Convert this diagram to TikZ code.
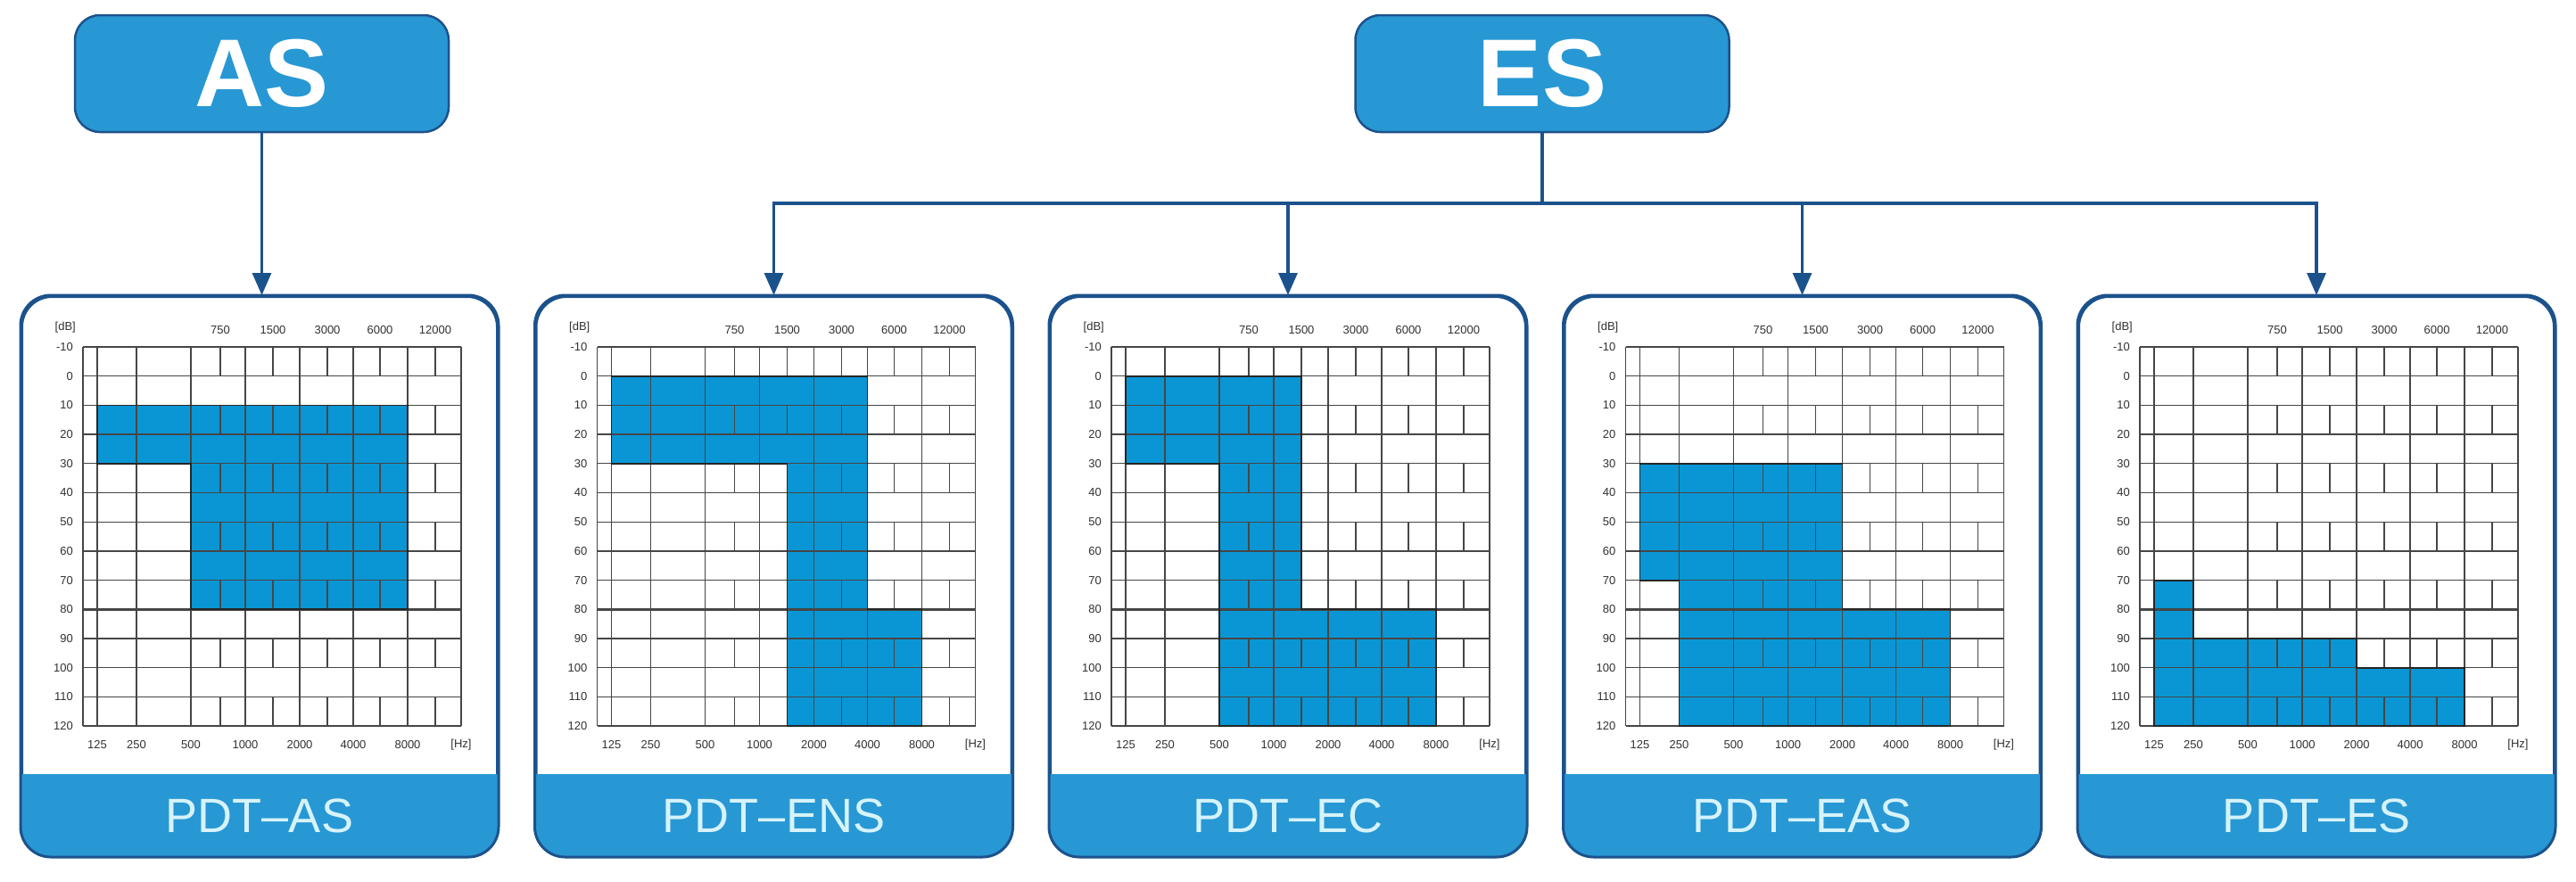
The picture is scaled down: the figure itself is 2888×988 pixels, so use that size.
\documentclass[tikz,border=0pt]{standalone}
\usepackage{fontspec}
\setmainfont{Liberation Sans}
\usetikzlibrary{arrows.meta,calc}
\definecolor{navy}{RGB}{28,82,140}
\definecolor{band}{RGB}{40,152,212}
\definecolor{fillblue}{RGB}{10,150,212}
\definecolor{bandtext}{RGB}{214,243,251}
\definecolor{gridc}{RGB}{70,70,70}
\definecolor{labc}{RGB}{50,50,50}

\def\fqA{16}\def\fqB{60}\def\fqC{121}\def\fqCh{154}\def\fqD{182}\def\fqDh{213}
\def\fqE{243}\def\fqEh{274}\def\fqF{303}\def\fqFh{333}\def\fqG{364}\def\fqGh{395}\def\fqR{424}

\tikzset{
  topbox/.style={draw=navy, line width=2.5pt, fill=band, rounded corners=28pt,
    minimum width=419pt, minimum height=131pt, inner sep=0pt, text=white,
    font=\fontsize{108}{108}\selectfont\bfseries},
  card/.style={draw=navy, line width=3pt, fill=white, rounded corners=34pt,
    minimum width=533pt, minimum height=627pt, inner sep=0pt, anchor=north west},
  cardline/.style={draw=navy, line width=3pt, rounded corners=34pt},
  bandlabel/.style={text=bandtext, inner sep=0pt, font=\fontsize{54}{54}\selectfont},
  conn/.style={draw=navy, line width=3.2pt},
  arr/.style={conn, -{Triangle[length=25pt,width=21pt]}},
  gridline/.style={draw=gridc, line width=1.3pt},
  gridthick/.style={draw=gridc, line width=2.4pt},
  outline/.style={draw=black!85, line width=1.8pt},
  axlabel/.style={text=labc, inner sep=0pt, font=\fontsize{13}{13}\selectfont},
}

\newcommand\audiocard[4]{%
  \node[card] (#1) at (#2,331) {};
  \begin{scope}
    \clip[rounded corners=34pt] (#1.north west) rectangle (#1.south east);
    \fill[band] (#1.south west) rectangle ([yshift=93pt]#1.south east);
  \end{scope}
  \draw[cardline] (#1.north west) rectangle (#1.south east);
  \node[bandlabel] (#1-lab) at ([yshift=46pt]#1.south) {#3};
  \begin{scope}[xshift=#2pt+70pt, yshift=-421.7pt, y=-3.27pt]
    \fill[fillblue] #4 -- cycle;
    \foreach \dbv in {-10,0,...,120} \draw[gridline] (0,\dbv) -- (\fqR,\dbv);
    \foreach \dbv in {20,80} \draw[gridthick] (0,\dbv) -- (\fqR,\dbv);
    \foreach \fx in {0,\fqA,\fqB,\fqC,\fqD,\fqE,\fqF,\fqG,\fqR}
      \draw[gridline] (\fx,-10) -- (\fx,120);
    \foreach \fx in {\fqCh,\fqDh,\fqEh,\fqFh,\fqGh}
      \foreach \dbv in {-10,10,...,110}
        \draw[gridline] (\fx,\dbv) -- (\fx,\dbv+10);
    \draw[outline] #4 -- cycle;
    \node[axlabel, anchor=east] (#1-dB) at (-8,-16.7) {[dB]};
    \foreach \dbv in {-10,0,...,120}
      \node[axlabel, anchor=east] (#1-y\dbv) at (-11,\dbv) {\dbv};
    \foreach \fx/\tv in {\fqCh/750,\fqDh/1500,\fqEh/3000,\fqFh/6000,\fqGh/12000}
      \node[axlabel] (#1-t\tv) at (\fx,-15.8) {\tv};
    \foreach \fx/\tv in {\fqA/125,\fqB/250,\fqC/500,\fqD/1000,\fqE/2000,\fqF/4000,\fqG/8000}
      \node[axlabel] (#1-b\tv) at (\fx,126.4) {\tv};
    \node[axlabel] (#1-Hz) at (\fqR,126.4) {[Hz]};
  \end{scope}
}

\begin{document}
\begin{tikzpicture}[x=1pt, y=-1pt]
\useasboundingbox (0,0) rectangle (2888,988);

\node[topbox] (AS) at (293.5,82.5) {AS};
\node[topbox] (ES) at (1729,82.5) {ES};

\audiocard{cAS}{23}{PDT–AS}{(\fqA,10) -- (\fqG,10) -- (\fqG,80) -- (\fqC,80) -- (\fqC,30) -- (\fqA,30)}
\audiocard{cENS}{599.5}{PDT–ENS}{(\fqA,0) -- (\fqF,0) -- (\fqF,80) -- (\fqG,80) -- (\fqG,120) -- (\fqDh,120) -- (\fqDh,30) -- (\fqA,30)}
\audiocard{cEC}{1176}{PDT–EC}{(\fqA,0) -- (\fqDh,0) -- (\fqDh,80) -- (\fqG,80) -- (\fqG,120) -- (\fqC,120) -- (\fqC,30) -- (\fqA,30)}
\audiocard{cEAS}{1752.5}{PDT–EAS}{(\fqA,30) -- (\fqE,30) -- (\fqE,80) -- (\fqG,80) -- (\fqG,120) -- (\fqB,120) -- (\fqB,70) -- (\fqA,70)}
\audiocard{cES}{2329}{PDT–ES}{(\fqA,70) -- (\fqB,70) -- (\fqB,90) -- (\fqE,90) -- (\fqE,100) -- (\fqG,100) -- (\fqG,120) -- (\fqA,120)}

\draw[arr] (AS.south) -- (AS.south |- cAS.north);

\coordinate (bus) at (0,228);
\draw[conn] (ES.south) -- (ES.south |- bus);
\draw[conn, line cap=rect] (cENS.north |- bus) -- (cES.north |- bus);
\foreach \c in {cENS,cEC,cEAS,cES}
  \draw[arr] (\c.north |- bus) -- (\c.north);
\end{tikzpicture}
\end{document}
